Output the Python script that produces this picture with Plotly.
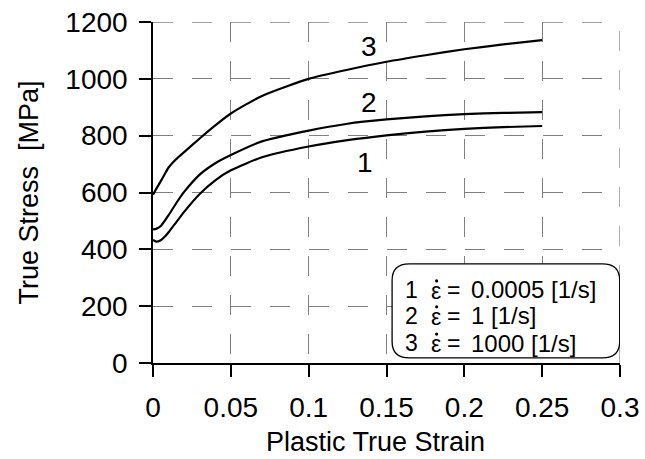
import plotly.graph_objects as go

strain = [0, 0.002, 0.005, 0.0075, 0.01, 0.015, 0.02, 0.03, 0.04, 0.05,
          0.07, 0.1, 0.125, 0.15, 0.175, 0.2, 0.225, 0.25]
stress_1 = [433, 427, 432, 444, 460, 496, 532, 595, 643, 678,
            724, 762, 784, 801, 814, 824, 830, 834]
stress_2 = [470, 472, 482, 500, 520, 563, 602, 663, 703, 732,
            780, 818, 842, 857, 868, 876, 880, 883]
stress_3 = [592, 612, 640, 664, 688, 718, 742, 790, 836, 878,
            940, 1000, 1032, 1060, 1083, 1104, 1121, 1136]

curve_labels = ["1", "2", "3"]
label_x = [0.136, 0.139, 0.139]
label_y = [707, 915, 1113]

legend_nums = ["1", "2", "3"]
legend_vals = ["0.0005 [1/s]", "1 [1/s]", "1000 [1/s]"]
legend_y = [257, 166, 70]

x_ticks = [0, 0.05, 0.1, 0.15, 0.2, 0.25, 0.3]
x_ticktext = ["0", "0.05", "0.1", "0.15", "0.2", "0.25", "0.3"]
y_ticks = [0, 200, 400, 600, 800, 1000, 1200]
x_title = "Plastic True Strain"
y_title = "True Stress\u00a0\u00a0[MPa]"

FONT = "Liberation Sans, Arial, sans-serif"
X_MAX, Y_MAX = 0.3, 1200
DASH = "20px,19px"

fig = go.Figure()
for ys in (stress_1, stress_2, stress_3):
    fig.add_trace(go.Scatter(x=strain, y=ys, mode="lines",
                             line=dict(color="black", width=2.2, shape="spline", smoothing=0.6),
                             showlegend=False, hoverinfo="skip"))

for t, lx, ly in zip(curve_labels, label_x, label_y):
    fig.add_annotation(x=lx, y=ly, text=t, showarrow=False, xref="x", yref="y",
                       font=dict(size=28, color="black", family=FONT))

# edge grid lines (top and right), dashed like the grid
grid_line = dict(color="#808080", width=1.3, dash=DASH)
fig.add_shape(type="line", x0=0, x1=X_MAX, y0=Y_MAX, y1=Y_MAX, xref="x", yref="y",
              line=grid_line, layer="below")
fig.add_shape(type="line", x0=X_MAX, x1=X_MAX, y0=0, y1=Y_MAX, xref="x", yref="y",
              line=grid_line, layer="below")

# legend box (rounded)
x0, x1, y0, y1 = 0.1536, 0.2998, 18, 349
rx, ry = 0.011, 58
path = (f"M {x0+rx},{y1} L {x1-rx},{y1} Q {x1},{y1} {x1},{y1-ry} "
        f"L {x1},{y0+ry} Q {x1},{y0} {x1-rx},{y0} L {x0+rx},{y0} "
        f"Q {x0},{y0} {x0},{y0+ry} L {x0},{y1-ry} Q {x0},{y1} {x0+rx},{y1} Z")
fig.add_shape(type="path", path=path, xref="x", yref="y",
              line=dict(color="black", width=1.3), fillcolor="white", layer="above")
lf = dict(size=23, color="black", family=FONT)
for n, v, ly in zip(legend_nums, legend_vals, legend_y):
    fig.add_annotation(x=0.1607, y=ly, text=n, showarrow=False, xref="x", yref="y",
                       xanchor="left", font=lf)
    fig.add_annotation(x=0.1819, y=ly, text="ε", showarrow=False, xref="x", yref="y",
                       xanchor="center", yshift=-1, font=lf)
    # dot above epsilon (time derivative)
    fig.add_shape(type="circle", xref="x", yref="y", xsizemode="pixel", ysizemode="pixel",
                  xanchor=0.1822, yanchor=ly, x0=-1.6, x1=1.6, y0=7.4, y1=10.6,
                  line=dict(width=0), fillcolor="black", layer="above")
    fig.add_annotation(x=0.1929, y=ly, text="=", showarrow=False, xref="x", yref="y",
                       xanchor="center", font=lf)
    fig.add_annotation(x=0.2030, y=ly, text=v, showarrow=False, xref="x", yref="y",
                       xanchor="left", font=dict(size=24, color="black", family=FONT))

# axis titles
fig.add_annotation(x=0.4764, y=0, xref="paper", yref="paper", yshift=-79,
                   text=x_title, showarrow=False, xanchor="center", yanchor="middle",
                   font=dict(size=27, color="black", family=FONT))
fig.add_annotation(x=0, y=0.5, xref="paper", yref="paper", xshift=-125,
                   text=y_title, showarrow=False, textangle=-90,
                   xanchor="center", yanchor="middle",
                   font=dict(size=27, color="black", family=FONT))

axis_common = dict(showline=True, linecolor="black", linewidth=1.5,
                   ticks="outside", ticklen=12, tickwidth=1.5, tickcolor="black",
                   showgrid=True, gridcolor="#808080", gridwidth=1.3,
                   griddash=DASH, zeroline=False, automargin=False,
                   tickfont=dict(size=28, color="black", family=FONT))

fig.update_xaxes(range=[0, X_MAX], tickvals=x_ticks, ticktext=x_ticktext,
                 ticklabelstandoff=7, **axis_common)
fig.update_yaxes(range=[0, Y_MAX], tickvals=y_ticks, ticklabelstandoff=6, **axis_common)

fig.update_layout(width=645, height=459, margin=dict(l=153, r=25, t=22, b=96),
                  plot_bgcolor="white", paper_bgcolor="white",
                  font=dict(family=FONT, color="black"))

fig.write_html("out.html")
